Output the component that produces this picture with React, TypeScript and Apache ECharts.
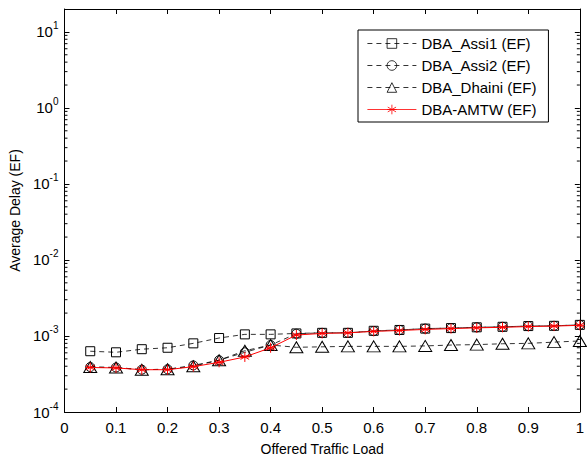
import React, { useEffect, useRef } from "react";
import * as echarts from "echarts";

const loads = [0.05, 0.1, 0.15, 0.2, 0.25, 0.3, 0.35, 0.4, 0.45, 0.5, 0.55, 0.6, 0.65, 0.7, 0.75, 0.8, 0.85, 0.9, 0.95, 1.0];
const assi1 = [6.3e-4, 6.1e-4, 6.7e-4, 7.0e-4, 8.0e-4, 9.4e-4, 1.05e-3, 1.05e-3, 1.08e-3, 1.1e-3, 1.1e-3, 1.17e-3, 1.2e-3, 1.25e-3, 1.27e-3, 1.3e-3, 1.32e-3, 1.35e-3, 1.36e-3, 1.4e-3];
const assi2 = [3.9e-4, 3.85e-4, 3.6e-4, 3.65e-4, 4.1e-4, 4.8e-4, 6.1e-4, 7.6e-4, 1.07e-3, 1.1e-3, 1.1e-3, 1.16e-3, 1.2e-3, 1.25e-3, 1.27e-3, 1.3e-3, 1.32e-3, 1.35e-3, 1.36e-3, 1.4e-3];
const dhaini = [3.9e-4, 3.85e-4, 3.6e-4, 3.65e-4, 4.0e-4, 4.8e-4, 6.4e-4, 7.6e-4, 7.1e-4, 7.2e-4, 7.3e-4, 7.3e-4, 7.3e-4, 7.4e-4, 7.6e-4, 7.7e-4, 7.9e-4, 8.0e-4, 8.3e-4, 8.6e-4];
const amtw = [3.85e-4, 3.8e-4, 3.6e-4, 3.6e-4, 3.95e-4, 4.5e-4, 5.3e-4, 7.0e-4, 1.03e-3, 1.08e-3, 1.1e-3, 1.15e-3, 1.18e-3, 1.22e-3, 1.25e-3, 1.28e-3, 1.3e-3, 1.33e-3, 1.35e-3, 1.38e-3];
const seriesNames = ["DBA_Assi1 (EF)", "DBA_Assi2 (EF)", "DBA_Dhaini (EF)", "DBA-AMTW (EF)"];
const decades = [-4, -3, -2, -1, 0, 1];
const minorMultipliers = [2, 3, 4, 5, 6, 7, 8, 9];

const Y_MIN = 1e-4;
const Y_MAX = 20;

const FONT = "Liberation Sans, Arial, sans-serif";
const STAR = "path://M0,-5L0,5M-4.33,-2.5L4.33,2.5M-4.33,2.5L4.33,-2.5M-5,0L5,0";

export default function App() {
  const ref = useRef<HTMLDivElement>(null);
  useEffect(() => {
    if (!ref.current) return;
    const chart = echarts.init(ref.current, null, { renderer: "svg" });
    const minorTicks: number[] = [];
    decades.forEach((d) => {
      minorMultipliers.forEach((m) => {
        const v = m * Math.pow(10, d);
        if (v > Y_MIN && v < Y_MAX) minorTicks.push(v);
      });
    });
    const toPairs = (arr: number[]) => loads.map((x, i) => [x, arr[i]]);
    const dashed = { color: "#000", width: 0.8, type: [5, 4] as any };
    const hollow = { color: "rgba(0,0,0,0)", borderColor: "#000", borderWidth: 1 };
    const axisLine = { show: true, onZero: false, lineStyle: { color: "#000", width: 1 } };
    const axisTick = { show: true, inside: true, length: 5, lineStyle: { color: "#000", width: 1 } };
    const yLabel = {
      fontFamily: FONT,
      color: "#000",
      margin: 6,
      showMaxLabel: false,
      formatter: (v: number) => {
        const e = Math.round(Math.log10(v));
        return "{b|10}{s|" + e + "}";
      },
      rich: {
        b: { fontFamily: FONT, fontSize: 15, color: "#000" },
        s: { fontFamily: FONT, fontSize: 10, color: "#000", padding: [0, 0, 12, 0] },
      },
    };
    chart.setOption({
      animation: false,
      backgroundColor: "#fff",
      grid: { left: 63, right: 3, top: 9, bottom: 43, containLabel: false },
      legend: {
        data: seriesNames,
        orient: "vertical",
        left: 358,
        top: 30,
        itemWidth: 49,
        itemHeight: 12,
        itemGap: 7,
        padding: [6, 12, 5, 9],
        borderColor: "#000",
        borderWidth: 1,
        borderRadius: 0,
        backgroundColor: "#fff",
        itemStyle: { borderWidth: 0.8 },
        lineStyle: { width: 0.8 },
        textStyle: { fontFamily: FONT, fontSize: 15, color: "#000" },
      },
      xAxis: [
        {
          type: "value",
          min: 0,
          max: 1,
          interval: 0.1,
          name: "Offered Traffic Load",
          nameLocation: "middle",
          nameGap: 30,
          nameTextStyle: { fontFamily: FONT, fontSize: 14, color: "#000" },
          axisLine,
          axisTick,
          axisLabel: { fontFamily: FONT, fontSize: 15, color: "#000", margin: 8 },
          splitLine: { show: false },
        },
        {
          type: "value",
          min: 0,
          max: 1,
          interval: 0.1,
          position: "top",
          axisLine,
          axisTick,
          axisLabel: { show: false },
          splitLine: { show: false },
        },
      ],
      yAxis: [
        {
          type: "log",
          logBase: 10,
          min: Y_MIN,
          max: Y_MAX,
          name: "Average Delay (EF)",
          nameLocation: "middle",
          nameGap: 40,
          nameTextStyle: { fontFamily: FONT, fontSize: 14, color: "#000" },
          axisLine,
          axisTick,
          axisLabel: yLabel,
          splitLine: { show: false },
        },
        {
          type: "log",
          logBase: 10,
          min: Y_MIN,
          max: Y_MAX,
          position: "right",
          axisLine,
          axisTick,
          axisLabel: { show: false },
          splitLine: { show: false },
        },
      ],
      series: [
        {
          type: "custom",
          silent: true,
          coordinateSystem: "cartesian2d",
          data: minorTicks.map((v) => [0, v]),
          renderItem: (params: any, api: any) => {
            const v = api.value(1);
            const l = api.coord([0, v]);
            const r = api.coord([1, v]);
            return {
              type: "group",
              children: [
                { type: "line", shape: { x1: l[0], y1: l[1], x2: l[0] + 3, y2: l[1] }, style: { stroke: "#000", lineWidth: 1 } },
                { type: "line", shape: { x1: r[0], y1: r[1], x2: r[0] - 3, y2: r[1] }, style: { stroke: "#000", lineWidth: 1 } },
              ],
            };
          },
          z: 1,
        },
        {
          name: seriesNames[0],
          type: "line",
          data: toPairs(assi1),
          symbol: "rect",
          symbolSize: 9,
          lineStyle: dashed,
          itemStyle: hollow,
          z: 2,
        },
        {
          name: seriesNames[1],
          type: "line",
          data: toPairs(assi2),
          symbol: "circle",
          symbolSize: 9,
          lineStyle: dashed,
          itemStyle: hollow,
          z: 3,
        },
        {
          name: seriesNames[2],
          type: "line",
          data: toPairs(dhaini),
          symbol: "triangle",
          symbolSize: [13, 11],
          lineStyle: dashed,
          itemStyle: hollow,
          z: 4,
        },
        {
          name: seriesNames[3],
          type: "line",
          data: toPairs(amtw),
          symbol: STAR,
          symbolSize: 10,
          lineStyle: { color: "#ff0000", width: 1 },
          itemStyle: { color: "#ff0000", borderColor: "#ff0000", borderWidth: 1 },
          z: 5,
        },
      ],
    });
    return () => chart.dispose();
  }, []);
  return <div ref={ref} style={{ position: "absolute", left: 0, top: 0, width: 587, height: 461 }} />;
}
